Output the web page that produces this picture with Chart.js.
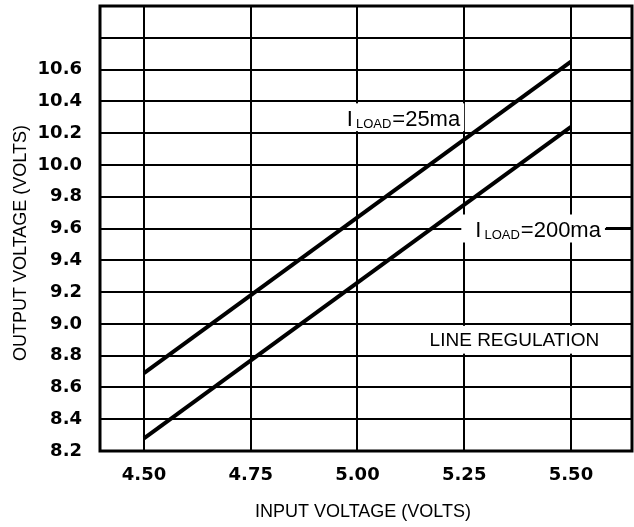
<!DOCTYPE html>
<html>
<head>
<meta charset="utf-8">
<script src="https://cdn.jsdelivr.net/npm/chart.js@4/dist/chart.umd.min.js"></script>
<style>
  html, body { margin: 0; padding: 0; background: #fff; }
  #wrap { width: 634px; height: 527px; position: relative; }
</style>
</head>
<body>
<div id="wrap"><canvas id="c" width="634" height="527"></canvas></div>
<script>
// ---- data ----
const inputVoltage = [4.50, 5.50];
const outLoad25 = [8.69, 10.65];
const outLoad200 = [8.28, 10.24];
const xTickValues = [4.50, 4.75, 5.00, 5.25, 5.50];
const yTickValues = [8.2, 8.4, 8.6, 8.8, 9.0, 9.2, 9.4, 9.6, 9.8, 10.0, 10.2, 10.4, 10.6, 10.8, 11.0];
const yLabelMax = 10.6;
const xTitle = 'INPUT VOLTAGE (VOLTS)';
const yTitle = 'OUTPUT VOLTAGE (VOLTS)';
const label25 = { sub: 'LOAD', rest: '=25ma' };
const label200 = { sub: 'LOAD', rest: '=200ma' };
const labelReg = 'LINE REGULATION';

const toPts = (xs, ys) => xs.map((x, i) => ({ x: x, y: ys[i] }));

function drawILabel(ctx, x, yc, parts) {
  ctx.save();
  ctx.fillStyle = '#000';
  ctx.textBaseline = 'alphabetic';
  ctx.textAlign = 'left';
  const base = yc + 8;
  ctx.font = '22px "Liberation Sans", Arial, sans-serif';
  ctx.fillText('I', x, base);
  let cx = x + ctx.measureText('I').width + 3;
  ctx.font = '13px "Liberation Sans", Arial, sans-serif';
  ctx.fillText(parts.sub, cx, base + 2);
  cx += ctx.measureText(parts.sub).width + 1;
  ctx.font = '22px "Liberation Sans", Arial, sans-serif';
  ctx.fillText(parts.rest, cx, base);
  cx += ctx.measureText(parts.rest).width;
  ctx.restore();
  return cx;
}
function measureILabel(ctx, parts) {
  ctx.save();
  ctx.font = '22px "Liberation Sans", Arial, sans-serif';
  let w = ctx.measureText('I').width + 3;
  w += ctx.measureText(parts.rest).width;
  ctx.font = '13px "Liberation Sans", Arial, sans-serif';
  w += ctx.measureText(parts.sub).width + 1;
  ctx.restore();
  return w;
}

const annotPlugin = {
  id: 'annot',
  beforeDatasetsDraw(chart) {
    const ctx = chart.ctx;
    const xs = chart.scales.x, ys = chart.scales.y;
    const area = chart.chartArea;
    ctx.save();
    ctx.fillStyle = '#fff';
    // 25ma label
    let x1 = xs.getPixelForValue(4.975);
    let yc1 = (ys.getPixelForValue(10.4) + ys.getPixelForValue(10.2)) / 2 + 1;
    let w1 = measureILabel(ctx, label25);
    ctx.fillRect(x1 - 4, ys.getPixelForValue(10.4) + 2, w1 + 8, ys.getPixelForValue(10.2) - ys.getPixelForValue(10.4) - 4);
    // 200ma label
    let x2 = xs.getPixelForValue(5.276);
    let yc2 = ys.getPixelForValue(9.6);
    let w2 = measureILabel(ctx, label200);
    ctx.fillStyle = '#fff';
    ctx.fillRect(x2 - 14, yc2 - 14, w2 + 18, 28);
    // line regulation
    ctx.font = '19px "Liberation Sans", Arial, sans-serif';
    let x3 = xs.getPixelForValue(5.169);
    let yc3 = (ys.getPixelForValue(9.0) + ys.getPixelForValue(8.8)) / 2;
    let w3 = ctx.measureText(labelReg).width;
    ctx.fillRect(x3 - 5, ys.getPixelForValue(9.0) + 2, w3 + 10, ys.getPixelForValue(8.8) - ys.getPixelForValue(9.0) - 4);
    ctx.restore();

    drawILabel(ctx, x1, yc1, label25);
    const end2 = drawILabel(ctx, x2, yc2, label200);
    ctx.save();
    ctx.strokeStyle = '#000';
    ctx.lineWidth = 3;
    ctx.beginPath();
    ctx.moveTo(end2 + 5, yc2);
    ctx.lineTo(area.right, yc2);
    ctx.stroke();
    ctx.fillStyle = '#000';
    ctx.font = '19px "Liberation Sans", Arial, sans-serif';
    ctx.textBaseline = 'middle';
    ctx.textAlign = 'left';
    ctx.fillText(labelReg, x3, yc3 + 1);
    ctx.restore();
  },
  afterDraw(chart) {
    const ctx = chart.ctx;
    const a = chart.chartArea;
    ctx.save();
    ctx.strokeStyle = '#000';
    ctx.lineWidth = 3;
    ctx.strokeRect(a.left, a.top, a.right - a.left, a.bottom - a.top);
    ctx.fillStyle = '#000';
    ctx.font = '18px "Liberation Sans", Arial, sans-serif';
    ctx.textAlign = 'center';
    ctx.textBaseline = 'middle';
    ctx.fillText(xTitle, 363, 512);
    ctx.translate(21, 243);
    ctx.rotate(-Math.PI / 2);
    ctx.fillText(yTitle, 0, 0);
    ctx.restore();
  }
};

new Chart(document.getElementById('c'), {
  type: 'line',
  data: {
    datasets: [
      { label: 'ILOAD=25ma', data: toPts(inputVoltage, outLoad25), borderColor: '#000', borderWidth: 4, pointRadius: 0, tension: 0, borderCapStyle: 'butt', fill: false },
      { label: 'ILOAD=200ma', data: toPts(inputVoltage, outLoad200), borderColor: '#000', borderWidth: 4, pointRadius: 0, tension: 0, borderCapStyle: 'butt', fill: false }
    ]
  },
  options: {
    responsive: false,
    animation: false,
    layout: { padding: { left: 0, right: 2, top: 6, bottom: 0 } },
    plugins: { legend: { display: false }, tooltip: { enabled: false } },
    scales: {
      x: {
        type: 'linear',
        min: 4.397,
        max: 5.643,
        afterBuildTicks: (s) => { s.ticks = xTickValues.map(v => ({ value: v })); },
        afterFit: (s) => { s.height = 76; s.paddingLeft = 0; s.paddingRight = 0; },
        grid: { color: '#000', lineWidth: 2, drawTicks: false },
        border: { display: false },
        ticks: {
          autoSkip: false,
          maxRotation: 0,
          padding: 14,
          color: '#000',
          font: { family: '"DejaVu Sans", sans-serif', size: 18, weight: 'bold' },
          callback: (v) => Number(v).toFixed(2)
        }
      },
      y: {
        type: 'linear',
        min: 8.2,
        max: 11.0,
        afterBuildTicks: (s) => { s.ticks = yTickValues.map(v => ({ value: v })); },
        afterFit: (s) => { s.width = 100; s.paddingTop = 0; s.paddingBottom = 0; },
        grid: { color: '#000', lineWidth: 2, drawTicks: false },
        border: { display: false },
        ticks: {
          autoSkip: false,
          padding: 18,
          color: '#000',
          font: { family: '"DejaVu Sans", sans-serif', size: 18, weight: 'bold' },
          callback: (v) => (Number(v) <= yLabelMax + 1e-9 ? Number(v).toFixed(1) : '')
        }
      }
    }
  },
  plugins: [annotPlugin]
});
</script>
</body>
</html>
